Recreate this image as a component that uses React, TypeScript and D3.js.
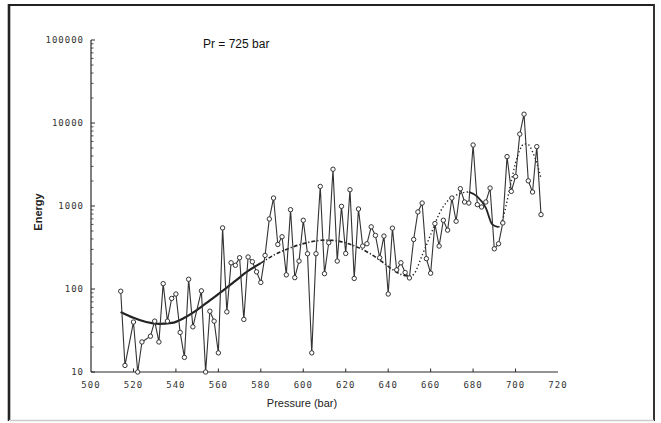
import React from 'react';
import * as d3 from 'd3';

// measured points (pressure in bar, energy)
const pressure = [
  514, 516, 520, 522, 524, 528, 530, 532, 534, 536, 538, 540, 542, 544, 546, 548, 552, 554, 556, 558,
  560, 562, 564, 566, 568, 570, 572, 574, 576, 578, 580, 582, 584, 586, 588, 590, 592, 594, 596, 598,
  600, 602, 604, 606, 608, 610, 612, 614, 616, 618, 620, 622, 624, 626, 628, 630, 632, 634, 636, 638,
  640, 642, 644, 646, 648, 650, 652, 654, 656, 658, 660, 662, 664, 666, 668, 670, 672, 674, 676, 678,
  680, 682, 684, 686, 688, 690, 692, 694, 696, 698, 700, 702, 704, 706, 708, 710, 712,
];
const energy = [
  94, 12, 40, 10, 23, 27, 41, 23, 116, 41, 77, 87, 30, 15, 131, 35, 95, 10, 54, 41,
  17, 545, 53, 207, 193, 238, 43, 243, 213, 161, 120, 254, 698, 1247, 344, 426, 148, 903, 137, 217,
  673, 266, 17, 266, 1722, 153, 361, 2774, 217, 991, 268, 1570, 134, 920, 329, 351, 561, 442, 238, 434,
  87, 541, 170, 207, 158, 136, 395, 848, 1086, 232, 155, 614, 329, 673, 512, 1247, 655, 1616, 1117, 1086,
  5430, 1038, 973, 1117, 1644, 305, 351, 625, 3935, 1500, 2265, 7350, 12770, 2009, 1473, 5190, 787,
];

// fitted trend curve
const fitPressure = [
  514, 520, 526, 532, 538, 544, 550, 556, 562, 568, 574, 580, 586, 592, 598, 604, 610, 614, 620, 626,
  632, 638, 642, 646, 650, 652, 656, 660, 664, 668, 672, 676, 678, 682, 686, 689, 692, 694, 696, 698,
  700, 702, 704, 706, 708, 710, 712,
];
const fitEnergy = [
  53, 45, 40, 38, 39, 45, 56, 73, 95, 125, 165, 205, 255, 300, 340, 372, 388, 385, 360, 315,
  262, 205, 172, 150, 142, 150, 255, 450, 800, 1150, 1350, 1460, 1480, 1300, 950, 600, 555, 700, 1150, 2000,
  3300, 4700, 5600, 5500, 4500, 3300, 2150,
];

// pieces of the curve and how each one is drawn
const fitSegments = [
  { from: 514, to: 580, dash: null, width: 2.2 },
  { from: 580, to: 650, dash: '4,2,1.2,2', width: 1.6 },
  { from: 650, to: 678, dash: '1.3,2.4', width: 1.4 },
  { from: 678, to: 692, dash: null, width: 1.8 },
  { from: 692, to: 712, dash: '1.3,2.4', width: 1.4 },
];

const xTicks = [500, 520, 540, 560, 580, 600, 620, 640, 660, 680, 700, 720];
const yTicks = [10, 100, 1000, 10000, 100000];

const W = 661;
const H = 423;
const ink = '#2a2a2a';
const tickFont = '"DejaVu Sans Mono", monospace';

export default function App() {
  const x = d3.scaleLinear().domain([500, 720]).range([91, 558]);
  const y = d3.scaleLog().domain([10, 100000]).range([372, 40]);

  const pts = pressure.map((p, i) => [p, energy[i]] as [number, number]);
  const fit = fitPressure.map((p, i) => [p, fitEnergy[i]] as [number, number]);

  const line = d3
    .line<[number, number]>()
    .x((d) => x(d[0]))
    .y((d) => y(d[1]));
  const smooth = d3
    .line<[number, number]>()
    .x((d) => x(d[0]))
    .y((d) => y(d[1]))
    .curve(d3.curveMonotoneX);

  const minor = y.ticks().filter((t) => !yTicks.includes(t));

  return (
    <svg width={W} height={H} style={{ position: 'absolute', left: 0, top: 0, background: '#fff' }}>
      {/* scan frame */}
      <line x1={9} y1={5} x2={654} y2={5} stroke="#222" strokeWidth={2.2} />
      <line x1={9} y1={4} x2={9} y2={421} stroke="#222" strokeWidth={2.6} />
      <line x1={654} y1={4} x2={654} y2={421} stroke="#333" strokeWidth={2} />
      <line x1={9} y1={420.5} x2={654} y2={420.5} stroke="#ccc" strokeWidth={1.5} />

      {/* axes */}
      <line x1={x(500)} y1={y(10)} x2={x(720)} y2={y(10)} stroke={ink} strokeWidth={1.2} />
      <line x1={x(500)} y1={y(10)} x2={x(500)} y2={y(100000)} stroke={ink} strokeWidth={1.2} />

      {xTicks.map((t) => (
        <g key={'x' + t}>
          {t > 500 && t < 720 && (
            <line x1={x(t)} x2={x(t)} y1={y(10)} y2={y(10) - 3.5} stroke={ink} strokeWidth={1} />
          )}
          <text
            x={x(t)}
            y={388}
            textAnchor="middle"
            fontFamily={tickFont}
            fontSize={9}
            letterSpacing={1}
            fill="#333"
          >
            {t}
          </text>
        </g>
      ))}

      {yTicks.map((t) => (
        <g key={'y' + t}>
          <line x1={x(500)} x2={x(500) + 4} y1={y(t)} y2={y(t)} stroke={ink} strokeWidth={1} />
          <text
            x={84}
            y={y(t) + 3}
            textAnchor="end"
            fontFamily={tickFont}
            fontSize={9}
            letterSpacing={1}
            fill="#333"
          >
            {t}
          </text>
        </g>
      ))}
      {minor.map((t) => (
        <line key={'m' + t} x1={x(500)} x2={x(500) + 2.5} y1={y(t)} y2={y(t)} stroke={ink} strokeWidth={0.8} />
      ))}

      {/* fitted curve */}
      {fitSegments.map((s, i) => (
        <path
          key={'f' + i}
          d={smooth(fit.filter((d) => d[0] >= s.from && d[0] <= s.to)) || ''}
          fill="none"
          stroke="#222"
          strokeWidth={s.width}
          strokeDasharray={s.dash || undefined}
        />
      ))}

      {/* measured series */}
      <path d={line(pts) || ''} fill="none" stroke="#333" strokeWidth={1.1} />
      {pts.map((d, i) => (
        <circle key={'c' + i} cx={x(d[0])} cy={y(d[1])} r={2.2} fill="#fff" stroke="#333" strokeWidth={1} />
      ))}

      {/* labels */}
      <text x={203} y={48} fontFamily="Liberation Sans, Arial, sans-serif" fontSize={12} fill="#111">
        Pr = 725 bar
      </text>
      <text
        transform="translate(42,212) rotate(-90)"
        textAnchor="middle"
        fontFamily="Liberation Sans, Arial, sans-serif"
        fontWeight="bold"
        fontSize={11}
        fill="#222"
      >
        Energy
      </text>
      <text
        x={302}
        y={407}
        textAnchor="middle"
        fontFamily="Liberation Sans, Arial, sans-serif"
        fontSize={11}
        fill="#222"
      >
        Pressure (bar)
      </text>
    </svg>
  );
}
